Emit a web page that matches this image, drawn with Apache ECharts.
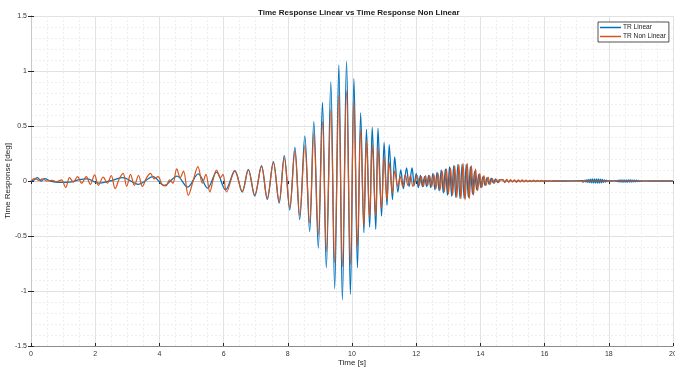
<!DOCTYPE html>
<html>
<head>
<meta charset="utf-8">
<script src="https://cdn.jsdelivr.net/npm/echarts@6/dist/echarts.min.js"></script>
<style>
  html, body { margin: 0; padding: 0; background: #fff; }
  #chart { width: 675px; height: 369px; }
</style>
</head>
<body>
<div id="chart"></div>
<script>
// values: [time s, response deg]
const linearEarly = [
  [0, 0], [0.1, 0.01], [0.2, 0.03], [0.32, 0.0], [0.43, 0.022], [0.6, 0.0], [0.9, -0.012],
  [1.2, -0.01], [1.5, 0.012], [1.75, 0.02], [2.1, -0.02], [2.45, 0.0], [2.85, 0.03],
  [3.35, -0.03], [3.8, 0.04], [4.15, -0.04], [4.55, 0.045], [4.88, -0.055], [5.21, 0.065],
  [5.5, -0.065], [5.78, 0.08], [6.06, -0.08]
];
const linearBurst = [
  [6.35, 0.094], [6.58, -0.1], [6.77, 0.106], [6.97, -0.136], [7.18, 0.14], [7.36, -0.167],
  [7.55, 0.176], [7.73, -0.2], [7.89, 0.23], [8.06, -0.264], [8.22, 0.306], [8.37, -0.35],
  [8.53, 0.41], [8.68, -0.46], [8.81, 0.54], [8.95, -0.61], [9.08, 0.715], [9.2, -0.79],
  [9.34, 0.9], [9.46, -0.98], [9.59, 1.055], [9.7, -1.08], [9.83, 1.09], [9.95, -1.03],
  [10.06, 0.93], [10.17, -0.79], [10.27, 0.62], [10.37, -0.47], [10.45, 0.47], [10.55, -0.42],
  [10.63, 0.49], [10.74, -0.44], [10.81, 0.48], [10.92, -0.32], [11.0, 0.35], [11.09, -0.22],
  [11.16, 0.33], [11.26, -0.17], [11.33, 0.22], [11.43, -0.1], [11.52, 0.1], [11.6, -0.07],
  [11.7, 0.12], [11.78, -0.05], [11.87, 0.12], [11.94, -0.04]
];
const nonLinearEarly = [
  [0, 0], [0.12, 0.025], [0.25, 0.005], [0.35, 0.02], [0.5, 0.0], [0.65, 0.006], [0.8, -0.006],
  [0.95, 0.01], [1.08, -0.06], [1.2, 0.03], [1.32, -0.01], [1.45, 0.04], [1.58, -0.02],
  [1.72, 0.04], [1.85, -0.03], [1.98, 0.055], [2.1, -0.04], [2.25, 0.035], [2.38, -0.02],
  [2.5, 0.05], [2.62, -0.07], [2.75, 0.02], [2.87, 0.07], [2.98, -0.05], [3.1, 0.06],
  [3.22, -0.04], [3.35, 0.05], [3.47, -0.05], [3.6, 0.03], [3.72, 0.07], [3.84, 0.02],
  [3.96, 0.04], [4.08, -0.03], [4.2, -0.045], [4.32, 0.01], [4.42, -0.02], [4.54, 0.11],
  [4.65, 0.03], [4.75, 0.09], [4.9, -0.13], [5.05, 0.0], [5.2, 0.13], [5.34, -0.02],
  [5.45, 0.06], [5.57, -0.1], [5.68, 0.02], [5.78, 0.1], [5.9, 0.03], [5.98, 0.06]
];
const nonLinearBurst = [
  [6.09, -0.1], [6.35, 0.09], [6.58, -0.095], [6.77, 0.1], [6.97, -0.125], [7.18, 0.13],
  [7.36, -0.155], [7.55, 0.165], [7.73, -0.185], [7.89, 0.21], [8.06, -0.24], [8.22, 0.27],
  [8.37, -0.31], [8.53, 0.32], [8.68, -0.38], [8.81, 0.43], [8.95, -0.49], [9.08, 0.54],
  [9.2, -0.64], [9.34, 0.65], [9.46, -0.74], [9.59, 0.78], [9.7, -0.78], [9.83, 0.82],
  [9.95, -0.76], [10.06, 0.72], [10.17, -0.6], [10.27, 0.47], [10.37, -0.41], [10.45, 0.37],
  [10.55, -0.33], [10.63, 0.33], [10.74, -0.32], [10.81, 0.3], [10.92, -0.25], [11.0, 0.22],
  [11.09, -0.17], [11.16, 0.17], [11.26, -0.11], [11.33, 0.09], [11.43, -0.05], [11.5, 0.04],
  [11.58, -0.05], [11.66, 0.06], [11.74, -0.04], [11.82, 0.05], [11.9, -0.05]
];

// evenly sampled stretches: start time, step, values
const linearBeatStart = 12.0, nonLinearBeatStart = 12.03, beatStep = 0.065;
const linearBeat = [
  0.07, -0.06, 0.05, -0.05, 0.04, -0.05, 0.05, -0.06, 0.07, -0.08, 0.08, -0.09, 0.1, -0.11,
  0.11, -0.13, 0.13, -0.14, 0.14, -0.15, 0.15, -0.16, 0.15, -0.16, 0.15, -0.15, 0.13, -0.12,
  0.09, -0.08, 0.06, -0.06, 0.04, -0.04, 0.03, -0.03, 0.025, -0.02, 0.02, -0.015, 0.012
];
const nonLinearBeat = [
  0.05, -0.04, 0.04, -0.05, 0.05, -0.04, 0.05, -0.05, 0.06, -0.07, 0.07, -0.08, 0.09, -0.1,
  0.11, -0.12, 0.12, -0.13, 0.14, -0.15, 0.15, -0.16, 0.16, -0.17, 0.16, -0.16, 0.14, -0.13,
  0.11, -0.09, 0.07, -0.06, 0.05, -0.04, 0.035, -0.03, 0.025, -0.02, 0.015, -0.015, 0.012
];
const tailStart = 14.7, tailStep = 0.06;
const linearTail = [
  0.01, -0.008, 0.008, -0.006, 0.006, -0.005, 0.005, -0.004, 0.004, -0.004, 0.003, -0.003,
  0.003, -0.003, 0.002, -0.002, 0.002, -0.002, 0.002, -0.002, 0.001, -0.001, 0.001, -0.001,
  0.001, -0.001, 0, 0, 0, 0, 0
];
const nonLinearTail = [
  0.012, -0.015, 0.014, -0.012, 0.013, -0.01, 0.011, -0.012, 0.01, -0.009, 0.01, -0.008,
  0.009, -0.008, 0.007, -0.007, 0.008, -0.006, 0.006, -0.005, 0.006, -0.005, 0.004, -0.004,
  0.004, -0.003, 0.003, -0.003, 0.002, -0.002, 0
];
const blobStep = 0.03;
const linearBlob1Start = 17.2;
const linearBlob1 = [
  0.004, -0.006, 0.008, -0.01, 0.012, -0.013, 0.014, -0.015, 0.016, -0.017, 0.018, -0.018,
  0.019, -0.019, 0.019, -0.019, 0.018, -0.018, 0.017, -0.016, 0.015, -0.013, 0.011, -0.009,
  0.007, -0.005, 0.003
];
const linearBlob2Start = 18.2;
const linearBlob2 = [
  0.003, -0.004, 0.006, -0.007, 0.008, -0.009, 0.009, -0.01, 0.01, -0.01, 0.01, -0.01, 0.01,
  -0.01, 0.009, -0.009, 0.009, -0.009, 0.008, -0.008, 0.008, -0.007, 0.007, -0.006, 0.006,
  -0.005, 0.004, -0.004, 0.003, -0.002, 0.001
];
const linearGap = [[18.08, 0]];
const linearEnd = [[19.3, 0], [20, 0]];
const nonLinearEnd = [[17.0, 0], [17.15, 0], [17.2, -0.012], [17.25, 0.004], [17.3, 0], [20, 0]];

const xTicks = [0, 20, 2];
const yTicks = [-1.5, 1.5, 0.5];

function sampled(start, step, values) {
  return values.map((v, i) => [+(start + i * step).toFixed(3), v]);
}

const linearData = [].concat(
  linearEarly, linearBurst,
  sampled(linearBeatStart, beatStep, linearBeat),
  sampled(tailStart, tailStep, linearTail),
  sampled(linearBlob1Start, blobStep, linearBlob1),
  linearGap,
  sampled(linearBlob2Start, blobStep, linearBlob2),
  linearEnd
);
const nonLinearData = [].concat(
  nonLinearEarly, nonLinearBurst,
  sampled(nonLinearBeatStart, beatStep, nonLinearBeat),
  sampled(tailStart, tailStep, nonLinearTail),
  nonLinearEnd
);

const font = '"Liberation Sans", Arial, Helvetica, sans-serif';
const axisGrey = '#8c8c8c';
const tickDark = '#262626';

const chart = echarts.init(document.getElementById('chart'), null, { renderer: 'canvas' });

const boxAxis = (pos) => ({
  position: pos,
  axisLine: { show: true, lineStyle: { color: '#c8c8c8', width: 1 } },
  axisTick: { show: true, inside: true, length: 3, lineStyle: { color: tickDark } },
  axisLabel: { show: false },
  splitLine: { show: false },
});

chart.setOption({
  animation: false,
  backgroundColor: '#fff',
  textStyle: { fontFamily: font },
  title: {
    text: 'Time Response Linear vs Time Response Non Linear',
    left: 253,
    top: 4,
    textStyle: { fontSize: 8, fontWeight: 'bold', color: '#1a1a1a', fontFamily: font },
  },
  legend: {
    data: ['TR Linear', 'TR Non Linear'],
    orient: 'vertical',
    left: 598,
    top: 22,
    icon: 'rect',
    itemWidth: 21,
    itemHeight: 1.5,
    itemGap: 2,
    padding: [2, 3, 2, 2],
    backgroundColor: '#fff',
    borderColor: '#262626',
    borderWidth: 0.8,
    borderRadius: 0,
    textStyle: { fontSize: 6.6, color: '#1a1a1a', fontFamily: font, padding: [0, 0, 0, -3] },
  },
  grid: { left: 31, right: 2, top: 16, bottom: 23, outerBoundsMode: 'none', containLabel: false },
  xAxis: [
    {
      type: 'value',
      min: xTicks[0],
      max: xTicks[1],
      interval: xTicks[2],
      name: 'Time [s]',
      nameLocation: 'middle',
      nameGap: 13,
      nameMoveOverlap: false,
      nameTextStyle: { fontSize: 8, color: '#262626' },
      axisLine: { show: true, onZero: false, lineStyle: { color: axisGrey, width: 1 } },
      axisTick: { show: true, inside: true, length: 3, lineStyle: { color: tickDark } },
      axisLabel: { fontSize: 7, color: '#333', margin: 5 },
      splitLine: { show: true, lineStyle: { color: '#e2e2e2', width: 1 } },
      minorTick: { show: false, splitNumber: 4 },
      minorSplitLine: { show: true, lineStyle: { color: '#eeeeee', width: 1, type: [2, 2] } },
    },
    Object.assign({ type: 'value', min: xTicks[0], max: xTicks[1], interval: xTicks[2] }, boxAxis('top')),
  ],
  yAxis: [
    {
      type: 'value',
      min: yTicks[0],
      max: yTicks[1],
      interval: yTicks[2],
      name: 'Time Response [deg]',
      nameLocation: 'middle',
      nameGap: 19,
      nameMoveOverlap: false,
      nameTextStyle: { fontSize: 8, color: '#262626' },
      axisLine: { show: true, onZero: false, lineStyle: { color: axisGrey, width: 1 } },
      axisTick: { show: true, inside: true, length: 3, lineStyle: { color: tickDark } },
      axisLabel: { fontSize: 7, color: '#333', margin: 4 },
      splitLine: { show: true, lineStyle: { color: '#e2e2e2', width: 1 } },
      minorTick: { show: false, splitNumber: 5 },
      minorSplitLine: { show: true, lineStyle: { color: '#eeeeee', width: 1, type: [2, 2] } },
    },
    Object.assign({ type: 'value', min: yTicks[0], max: yTicks[1], interval: yTicks[2] }, boxAxis('right')),
  ],
  series: [
    {
      name: 'TR Linear',
      type: 'line',
      data: linearData,
      symbol: 'none',
      smooth: 0.35,
      lineStyle: { color: '#0072BD', width: 1.3 },
      itemStyle: { color: '#0072BD' },
    },
    {
      name: 'TR Non Linear',
      type: 'line',
      data: nonLinearData,
      symbol: 'none',
      smooth: 0.35,
      lineStyle: { color: '#D95319', width: 1.2 },
      itemStyle: { color: '#D95319' },
    },
  ],
});
</script>
</body>
</html>
